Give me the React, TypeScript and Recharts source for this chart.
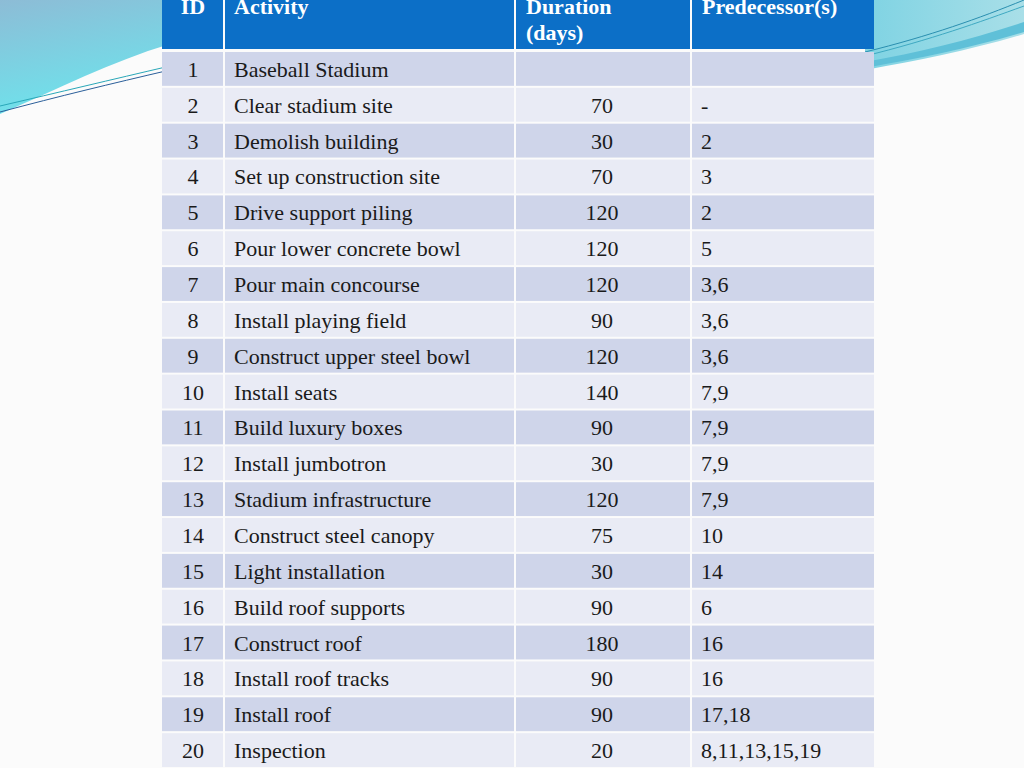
import { BarChart, Bar, XAxis, YAxis } from "recharts";

const ids = ["1", "2", "3", "4", "5", "6", "7", "8", "9", "10", "11", "12", "13", "14", "15", "16", "17", "18", "19", "20"];
const activities = [
  "Baseball Stadium",
  "Clear stadium site",
  "Demolish building",
  "Set up construction site",
  "Drive support piling",
  "Pour lower concrete bowl",
  "Pour main concourse",
  "Install playing field",
  "Construct upper steel bowl",
  "Install seats",
  "Build luxury boxes",
  "Install jumbotron",
  "Stadium infrastructure",
  "Construct steel canopy",
  "Light installation",
  "Build roof supports",
  "Construct roof",
  "Install roof tracks",
  "Install roof",
  "Inspection",
];
const durations: (number | null)[] = [null, 70, 30, 70, 120, 120, 120, 90, 120, 140, 90, 30, 120, 75, 30, 90, 180, 90, 90, 20];
const predecessors = ["", "-", "2", "3", "2", "5", "3,6", "3,6", "3,6", "7,9", "7,9", "7,9", "7,9", "10", "14", "6", "16", "16", "17,18", "8,11,13,15,19"];
const headers = ["ID", "Activity", "Duration", "(days)", "Predecessor(s)"];

const rows = ids.map((id, i) => ({
  id,
  activity: activities[i],
  duration: durations[i],
  pred: predecessors[i],
}));

const W = 1024;
const H = 768;
const TOP = 51;
const rowH = (H - TOP) / rows.length;

// column edges [left, right]
const cols = [
  [162, 223],
  [225, 514],
  [516, 690],
  [692, 874],
];

const FONT = "'Liberation Serif', 'Times New Roman', serif";
const HEAD_BLUE = "#0c6fc7";
const ODD = "#cfd5ea";
const EVEN = "#e9ebf5";

const Header = () => (
  <g>
    {cols.map(([l, r], i) => (
      <rect key={i} x={l} y={-20} width={r - l} height={69} fill={HEAD_BLUE} />
    ))}
    <g fontFamily={FONT} fontSize={22} fontWeight="bold" fill="#ffffff">
      <text x={193} y={14} textAnchor="middle">{headers[0]}</text>
      <text x={234} y={14}>{headers[1]}</text>
      <text x={526} y={14}>{headers[2]}</text>
      <text x={526} y={40}>{headers[3]}</text>
      <text x={702} y={14}>{headers[4]}</text>
    </g>
  </g>
);

const RowTick = (props: any) => {
  const { y, payload } = props;
  const index: number = props.index ?? payload.index;
  const row = rows[index];
  if (!row) return null;
  const fill = index % 2 === 0 ? ODD : EVEN;
  const top = y - rowH / 2 + 1;
  const base = y + 8;
  return (
    <g>
      {index === 0 && <Header />}
      {cols.map(([l, r], i) => (
        <rect key={i} x={l} y={top} width={r - l} height={rowH - 2} fill={fill} />
      ))}
      <g fontFamily={FONT} fontSize={22} fill="#1a1a1a">
        <text x={193} y={base} textAnchor="middle">{row.id}</text>
        <text x={234} y={base}>{row.activity}</text>
        <text x={602} y={base} textAnchor="middle">{row.duration ?? ""}</text>
        <text x={701} y={base}>{row.pred}</text>
      </g>
    </g>
  );
};

const Decor = () => (
  <svg width={W} height={H} style={{ position: "absolute", left: 0, top: 0 }}>
    <defs>
      <linearGradient id="lg1" x1="0" y1="0" x2="0.3" y2="1">
        <stop offset="0" stopColor="#8dbcd6" />
        <stop offset="1" stopColor="#6ee3ec" />
      </linearGradient>
      <linearGradient id="lg2" x1="0" y1="0" x2="1" y2="0">
        <stop offset="0" stopColor="#7fd3e3" />
        <stop offset="1" stopColor="#a9dfe8" />
      </linearGradient>
    </defs>
    <rect x={0} y={0} width={W} height={H} fill="#fbfbfb" />
    <path d="M0,0 L170,0 L170,44 C110,62 60,88 0,114 Z" fill="url(#lg1)" />
    <path d="M0,106 C60,92 110,80 170,66" stroke="#2aa7b8" strokeWidth={1} fill="none" />
    <path d="M0,112 C60,96 110,84 170,70" stroke="#2b5f9a" strokeWidth={1} fill="none" />
    <path d="M865,0 L1024,0 L1024,34 C970,50 920,60 865,70 Z" fill="url(#lg2)" />
    <path d="M865,62 C920,52 970,40 1024,22 L1024,32 C970,48 920,58 865,68 Z" fill="#5fc0d8" />
    <path d="M865,52 C930,36 980,18 1024,0" stroke="#2a8fb0" strokeWidth={1} fill="none" />
    <path d="M865,56 C930,40 980,22 1024,6" stroke="#3fa9c2" strokeWidth={1} fill="none" />
  </svg>
);

export default function App() {
  return (
    <div style={{ position: "fixed", left: 0, top: 0, width: W, height: H, overflow: "hidden" }}>
      <Decor />
      <div style={{ position: "absolute", left: 0, top: 0 }}>
        <BarChart
          width={W}
          height={H}
          data={rows}
          layout="vertical"
          margin={{ top: TOP, right: 0, bottom: 0, left: 0 }}
          barCategoryGap={0}
        >
          <XAxis type="number" hide domain={[0, 1000]} />
          <YAxis
            type="category"
            dataKey="id"
            width={1}
            axisLine={false}
            tickLine={false}
            interval={0}
            tick={<RowTick />}
          />
          <Bar dataKey="duration" fill="transparent" isAnimationActive={false} />
        </BarChart>
      </div>
    </div>
  );
}
